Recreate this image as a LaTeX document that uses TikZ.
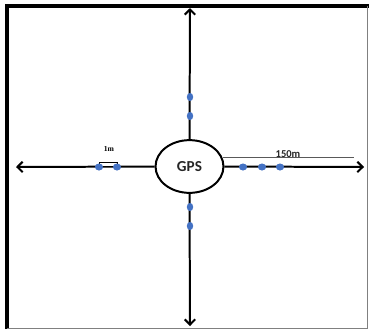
\documentclass[tikz,border=0pt]{standalone}
\usepackage{fontspec}
\newfontfamily\calibri{Carlito}
\usetikzlibrary{shapes.geometric, arrows.meta, positioning, calc}
\definecolor{sensorblue}{RGB}{68, 114, 196}

\begin{document}
\begin{tikzpicture}[
    x=0.03cm, y=-0.03cm,
    axis/.style={-{Straight Barb[length=4.5pt, width=9pt, line width=1.7pt]}, line width=1.7pt},
    sensor/.style={ellipse, fill=sensorblue, inner sep=0pt, minimum width=5.5pt, minimum height=7pt},
    flat/.style={minimum width=7pt, minimum height=6pt},
    frame/.style={line width=3pt}
]
    \useasboundingbox (0,0) rectangle (369,329);

    % frame
    \draw[frame] (7,329) -- (7,6) -- (369,6);
    \draw[gray, line width=0.6pt] (367.5,6) -- (367.5,328) -- (7,328);

    \node[ellipse, draw, line width=1.7pt, minimum width=58pt, minimum height=45pt, font=\calibri\bfseries\fontsize{13}{14}\selectfont, text=black!85] (gps) at (189.5,166.5) {GPS};

    \coordinate (topend) at (190,8);
    \coordinate (bottomend) at (190,326);
    \coordinate (leftend) at (16,167);
    \coordinate (rightend) at (364,167);

    \draw[axis] (gps.north) -- (topend);
    \draw[axis] (gps.south) -- (bottomend);
    \draw[axis] (gps.west) -- (leftend);
    \draw[axis] (gps.east) -- (rightend);

    % spacing marks
    \draw[line width=0.5pt, fill=white] (99,162) rectangle (117,166.5);
    \coordinate (scalestart) at (223,157);
    \coordinate (scaleend) at (354,157);
    \draw[gray!70!black, line width=0.5pt] (scalestart) -- (scaleend);

    \node[sensor] (top1) at (190,97) {};
    \node[sensor] (top2) at (190,116) {};
    \node[sensor] (bot1) at (190,207) {};
    \node[sensor] (bot2) at (190,226) {};
    \node[sensor, flat] (left1) at (99,167) {};
    \node[sensor, flat] (left2) at (117,167) {};
    \node[sensor, flat] (right1) at (243,167) {};
    \node[sensor, flat] (right2) at (262,167) {};
    \node[sensor, flat] (right3) at (280,167) {};

    \node[font=\fontspec{Liberation Serif}\bfseries\fontsize{6.5}{7}\selectfont, inner sep=0pt] (onem) at (109,149) {1m};
    \node[font=\calibri\bfseries\fontsize{9}{10}\selectfont, text=black!85, anchor=base, inner sep=0pt] (dist) at (288,157.5) {150m};
\end{tikzpicture}
\end{document}
